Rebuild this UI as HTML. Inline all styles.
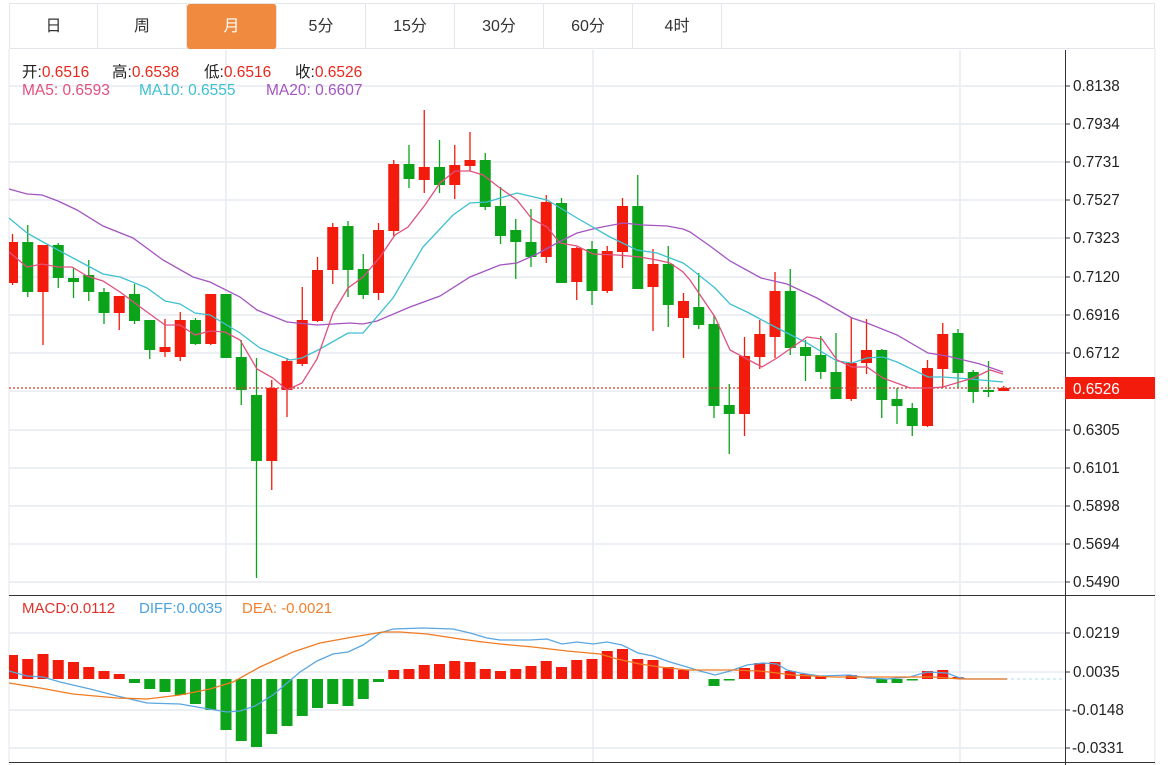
<!DOCTYPE html>
<html><head><meta charset="utf-8"><style>
body{margin:0;background:#fff;width:1168px;height:765px;overflow:hidden;font-family:"Liberation Sans","Noto Sans CJK SC",sans-serif}
.tabs{position:absolute;left:9px;top:3px;height:46px;width:1146px;border:1px solid #e3e6ea;border-bottom:1px solid #e3e6ea;box-sizing:border-box}
.tab{position:absolute;top:0;height:45px;line-height:46px;text-align:center;font-size:16px;color:#333;border-right:1px solid #e3e6ea;box-sizing:border-box}
.on{background:#f08a3f;color:#fff;border-radius:3px}
.lg{position:absolute;font-size:15.5px;white-space:pre}
.r{color:#e8281c}
svg{position:absolute;left:0;top:0}
</style></head><body>
<div class="tabs">
<div class="tab" style="left:0;width:88px">日</div>
<div class="tab" style="left:88px;width:89px">周</div>
<div class="tab on" style="left:177px;width:90px">月</div>
<div class="tab" style="left:267px;width:89px">5分</div>
<div class="tab" style="left:356px;width:89px">15分</div>
<div class="tab" style="left:445px;width:89px">30分</div>
<div class="tab" style="left:534px;width:89px">60分</div>
<div class="tab" style="left:623px;width:89px">4时</div>
</div>
<svg id="s" width="1168" height="765" xmlns="http://www.w3.org/2000/svg" font-family="Liberation Sans, sans-serif">
<g stroke="#e6ecf2" stroke-width="1.5" id="grid"></g>
<line x1="1155" y1="49" x2="1155" y2="765" stroke="#e3e6ea"/>
<line x1="9" y1="49" x2="9" y2="765" stroke="#e3e6ea"/>
<g id="c"></g>
<line x1="9" y1="595.5" x2="1155" y2="595.5" stroke="#333"/>
<line x1="9" y1="762.5" x2="1155" y2="762.5" stroke="#333"/>
<line x1="1065.5" y1="50" x2="1065.5" y2="765" stroke="#333"/>
<g stroke="#333" id="tk"></g>
<g font-size="15.3" fill="#222">
<text x="1073" y="91">0.8138</text><text x="1073" y="129">0.7934</text><text x="1073" y="167">0.7731</text><text x="1073" y="205">0.7527</text><text x="1073" y="243">0.7323</text><text x="1073" y="282">0.7120</text><text x="1073" y="320">0.6916</text><text x="1073" y="358">0.6712</text><text x="1073" y="435">0.6305</text><text x="1073" y="473">0.6101</text><text x="1073" y="511">0.5898</text><text x="1073" y="549">0.5694</text><text x="1073" y="587">0.5490</text>
<text x="1073" y="638">0.0219</text><text x="1073" y="677">0.0035</text><text x="1072" y="715">-0.0148</text><text x="1072" y="753">-0.0331</text>
</g>
<rect x="1065" y="377" width="90" height="22" fill="#f21b0c"/>
<text x="1073" y="394" font-size="15.3" fill="#fff">0.6526</text>
</svg>
<div class="lg" style="left:22px;top:60px;color:#222">开:<span class="r">0.6516</span></div>
<div class="lg" style="left:112px;top:60px;color:#222">高:<span class="r">0.6538</span></div>
<div class="lg" style="left:204px;top:60px;color:#222">低:<span class="r">0.6516</span></div>
<div class="lg" style="left:295px;top:60px;color:#222">收:<span class="r">0.6526</span></div>
<div class="lg" style="left:22px;top:82px;color:#e0507e">MA5: 0.6593</div>
<div class="lg" style="left:139px;top:82px;color:#3ec0d0">MA10: 0.6555</div>
<div class="lg" style="left:266px;top:82px;color:#a455c0">MA20: 0.6607</div>
<div class="lg" style="left:22px;top:600px;font-size:15px;color:#e0302a">MACD:0.0112</div>
<div class="lg" style="left:139px;top:600px;font-size:15px;color:#4aa3e0">DIFF:0.0035</div>
<div class="lg" style="left:242px;top:600px;font-size:15px;color:#f08030">DEA: -0.0021</div>
<script>
var NS="http://www.w3.org/2000/svg",s=document.getElementById('c'),g=document.getElementById('grid'),tk=document.getElementById('tk');
function el(t,a,p){var e=document.createElementNS(NS,t);for(var k in a)e.setAttribute(k,a[k]);(p||s).appendChild(e);return e;}
[86,124,162,200,238,277,315,353,391,430,468,506,544,582,633,672,710,748].forEach(function(y){el('line',{x1:9,x2:1065,y1:y,y2:y},g);el('line',{x1:1065,x2:1070,y1:y,y2:y},tk)});
[226,593,960].forEach(function(x){el('line',{x1:x,x2:x,y1:50,y2:762},g)});
var C=[['r',242,283,234,285],['g',242,292,225,297],['r',245,292,245,345],['g',245,278,243,288],['g',278,282,268,298],['g',275,292,260,301],['g',292,313,288,324],['r',296,313,296,330],['g',294,321,284,324],['g',320,350,320,359],['r',347,352,319,357],['r',320,357,312,361],['g',320,344,318,345],['r',294,344,294,345],['g',294,358,294,358],['g',357,390,340,405],['g',395,461,358,578],['r',388,461,380,490],['r',361,390,358,417],['r',320,364,287,366],['r',270,321,257,322],['r',227,270,223,284],['g',226,270,221,297],['g',269,295,254,299],['r',230,293,223,300],['r',164,231,160,236],['g',164,179,145,188],['r',167,180,110,193],['g',167,185,140,193],['r',165,185,145,199],['r',160,166,132,171],['g',160,207,153,210],['g',206,236,187,244],['g',230,242,219,279],['g',242,257,209,267],['r',202,257,195,263],['g',203,283,198,283],['r',248,282,247,300],['g',249,291,241,305],['r',251,291,246,293],['r',206,252,198,268],['g',206,289,175,289],['r',264,287,249,331],['g',264,305,246,327],['r',301,318,293,358],['g',307,325,273,329],['g',324,406,315,418],['g',405,414,384,454],['r',356,414,337,436],['r',334,357,320,369],['r',291,337,272,358],['g',291,348,269,355],['g',347,356,340,381],['g',355,372,336,379],['g',372,399,333,399],['r',363,399,318,401],['r',350,363,319,374],['g',350,400,349,418],['g',399,406,388,424],['g',408,426,403,436],['r',368,426,360,427],['r',334,369,323,388],['g',333,373,329,388],['g',372,392,370,403],['g',390,392,361,397],['r',388,391,386,391]];
var RED='#f21b0c',GRN='#0aa31a';
function X(i){return 12.5+15.25*i}
C.forEach(function(c,i){var col=c[0]=='r'?RED:GRN,x=X(i);
 el('line',{x1:x,x2:x,y1:c[3],y2:c[4],stroke:col,'stroke-width':1.3});
 el('rect',{x:Math.max(9,x-5.5),y:c[1],width:x-5.5<9?x+5.5-9:11,height:Math.max(1.5,c[2]-c[1]),fill:col});});
el('line',{x1:9,x2:1065,y1:388,y2:388,stroke:'#d23a2a','stroke-dasharray':'2,2','stroke-width':1.3});
function pl(p,col){el('polyline',{points:p,fill:'none',stroke:col,'stroke-width':1.3});}
pl("9,189 27,194 42,195 58,201 77,210 103,226 133,238 163,260 193,277 210,282 240,297 257,310 287,322 317,325 350,323 363,324 377,321 410,307 440,296 470,277 500,265 517,263 537,254 557,243 577,233 597,228 623,223 643,225 667,226 683,229 690,232 710,246 730,261 761,278 787,284 817,298 852,318 867,323 897,335 928,353 947,356 980,364 1003,372",'#a455c0');
pl("9,218 27,233 43,242 73,258 103,274 120,277 147,288 165,301 180,304 195,313 210,315 240,333 260,348 290,360 302,358 320,349 348,333 363,333 393,298 423,247 453,215 470,203 487,202 517,193 547,200 577,218 610,237 637,250 657,253 683,263 690,268 715,288 730,304 747,312 777,328 807,343 837,361 852,363 867,358 883,357 897,362 928,377 943,377 970,379 1003,382",'#3ec0d0');
pl("9,252 27,267 42,264 58,267 72,267 87,276 103,281 120,292 147,312 165,325 180,325 195,335 210,331 225,332 240,340 257,369 273,378 287,390 302,383 317,359 333,313 348,288 363,277 380,257 395,235 408,227 425,205 440,183 455,171 470,171 483,175 500,188 517,200 532,219 547,227 560,243 577,246 593,254 617,255 640,257 657,260 670,263 683,272 690,280 715,317 730,350 762,367 777,358 807,337 822,339 837,360 852,367 867,367 883,378 910,388 928,388 943,387 973,378 990,370 1003,374",'#e0507e');
var M={0:655,1:659,2:654,3:660,4:662,5:667,6:671,7:674,8:683,9:689,10:692,11:695,12:704,13:710,14:730,15:741,16:747,17:734,18:726,19:716,20:708,21:704,22:706,23:699,24:682,25:670,26:669,27:665,28:664,29:661,30:662,31:669,32:671,33:669,34:666,35:661,36:667,37:660,38:659,39:651,40:649,41:659,42:660,43:667,44:670,46:686,47:680,48:668,49:663,50:662,51:671,52:674,53:676,55:675,57:683,58:683,59:680,60:671,61:670,62:677};
var Z=679;
for(var i in M){var y=M[i],x=X(+i),col=y<Z?RED:GRN;el('rect',{x:Math.max(9,x-5.5),y:Math.min(y,Z),width:x-5.5<9?x+5.5-9:11,height:Math.max(1.5,Math.abs(y-Z)),fill:col});}
el('line',{x1:1005,x2:1062,y1:679,y2:679,stroke:'#a8d8ea','stroke-dasharray':'3,3'});
pl("9,671 27,676 43,677 60,682 90,689 117,696 147,703 180,704 197,707 227,712 240,711 255,706 273,695 300,672 317,661 333,654 348,652 363,645 380,633 393,629 423,628 453,629 470,633 487,638 500,640 530,640 547,639 562,644 577,642 593,644 607,642 622,645 638,653 653,656 670,662 687,667 700,671 715,675 730,671 747,665 763,663 777,664 787,670 800,673 820,676 850,675 867,678 887,679 910,677 927,672 947,673 957,677 967,679 1007,679",'#5aa6e0');
pl("9,683 40,688 73,694 117,698 147,699 180,695 210,689 233,682 260,667 293,652 320,643 353,637 383,632 400,632 427,634 460,639 483,642 500,644 533,647 567,651 600,654 617,659 640,664 660,667 687,670 733,670 760,671 777,673 793,675 833,677 900,677 933,677 960,679 1007,679",'#f07b22');
</script>
</body></html>
